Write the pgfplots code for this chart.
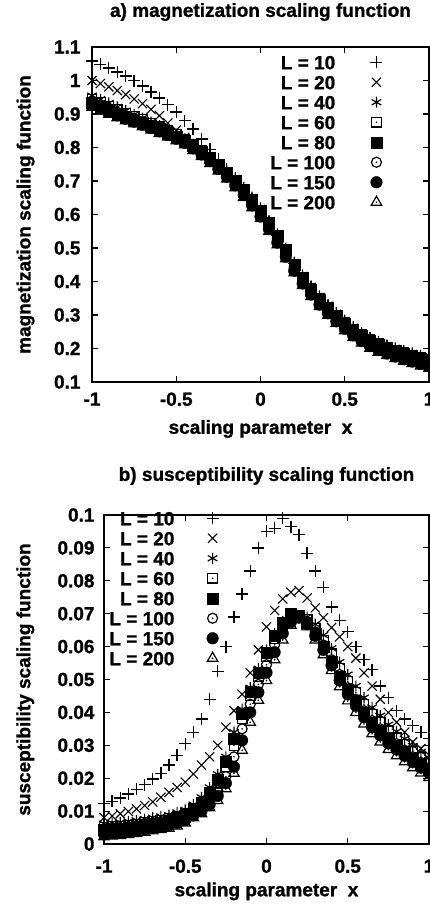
\documentclass[border=0pt]{standalone}
\usepackage{fontspec}
\setmainfont{Liberation Sans}[FakeBold=1.1]
\usepackage{pgfplots}
\usepackage{pgfplotstable}
\pgfplotsset{compat=1.18}
\newcommand\fnt{\fontsize{19}{22}\selectfont\bfseries}

\pgfdeclareplotmark{sqdot}{%
  \pgfpathrectangle{\pgfpoint{-\pgfplotmarksize}{-\pgfplotmarksize}}{\pgfpoint{2\pgfplotmarksize}{2\pgfplotmarksize}}%
  \pgfusepathqstroke
  \pgfpathcircle{\pgfpointorigin}{0.9pt}\pgfusepathqfill}
\pgfdeclareplotmark{circdot}{%
  \pgfpathcircle{\pgfpointorigin}{\pgfplotmarksize}\pgfusepathqstroke
  \pgfpathcircle{\pgfpointorigin}{0.9pt}\pgfusepathqfill}
\pgfdeclareplotmark{tridot}{%
  \pgfpathmoveto{\pgfpoint{0pt}{\pgfplotmarksize}}%
  \pgfpathlineto{\pgfpoint{-0.866\pgfplotmarksize}{-0.5\pgfplotmarksize}}%
  \pgfpathlineto{\pgfpoint{0.866\pgfplotmarksize}{-0.5\pgfplotmarksize}}%
  \pgfpathclose\pgfusepathqstroke
  \pgfpathcircle{\pgfpointorigin}{0.9pt}\pgfusepathqfill}

\pgfplotstableread{
x L10 L20 L40 L60 L80 L100 L150 L200
-1.00 1.058 1.000 0.955 0.945 0.933 0.936 0.927 0.920
-0.95 1.048 0.991 0.944 0.934 0.922 0.925 0.916 0.909
-0.90 1.037 0.981 0.933 0.924 0.912 0.915 0.906 0.899
-0.85 1.025 0.970 0.921 0.913 0.902 0.905 0.896 0.889
-0.80 1.013 0.958 0.910 0.903 0.892 0.895 0.886 0.880
-0.75 0.999 0.945 0.899 0.893 0.883 0.886 0.877 0.871
-0.70 0.984 0.931 0.888 0.883 0.874 0.877 0.868 0.862
-0.65 0.966 0.914 0.876 0.872 0.864 0.867 0.858 0.852
-0.60 0.948 0.895 0.865 0.862 0.855 0.857 0.848 0.842
-0.55 0.928 0.873 0.853 0.850 0.844 0.846 0.837 0.831
-0.50 0.906 0.852 0.840 0.839 0.833 0.835 0.826 0.820
-0.45 0.880 0.830 0.826 0.824 0.821 0.822 0.814 0.808
-0.40 0.855 0.810 0.810 0.808 0.805 0.805 0.797 0.791
-0.35 0.825 0.790 0.793 0.790 0.788 0.787 0.779 0.773
-0.30 0.795 0.770 0.774 0.771 0.769 0.767 0.759 0.752
-0.25 0.765 0.748 0.753 0.749 0.748 0.745 0.736 0.730
-0.20 0.735 0.725 0.732 0.727 0.725 0.722 0.713 0.706
-0.15 0.708 0.700 0.709 0.703 0.701 0.697 0.687 0.680
-0.10 0.678 0.671 0.681 0.675 0.673 0.668 0.658 0.651
-0.05 0.647 0.641 0.652 0.645 0.643 0.638 0.627 0.620
0.00 0.614 0.608 0.620 0.613 0.612 0.605 0.594 0.588
0.05 0.577 0.571 0.582 0.575 0.575 0.567 0.556 0.550
0.10 0.537 0.531 0.542 0.535 0.536 0.527 0.516 0.510
0.15 0.495 0.489 0.500 0.493 0.494 0.485 0.474 0.468
0.20 0.454 0.447 0.458 0.451 0.451 0.443 0.432 0.426
0.25 0.416 0.410 0.420 0.413 0.411 0.405 0.394 0.388
0.30 0.383 0.377 0.387 0.380 0.377 0.372 0.361 0.355
0.35 0.353 0.347 0.357 0.350 0.347 0.342 0.331 0.325
0.40 0.327 0.321 0.331 0.324 0.321 0.316 0.305 0.299
0.45 0.303 0.297 0.307 0.300 0.297 0.292 0.281 0.275
0.50 0.281 0.275 0.285 0.278 0.275 0.270 0.259 0.253
0.55 0.262 0.255 0.265 0.258 0.255 0.250 0.239 0.233
0.60 0.245 0.238 0.248 0.241 0.238 0.233 0.222 0.216
0.65 0.230 0.223 0.233 0.226 0.223 0.218 0.207 0.201
0.70 0.218 0.211 0.221 0.214 0.211 0.206 0.195 0.189
0.75 0.208 0.201 0.211 0.204 0.201 0.196 0.185 0.179
0.80 0.199 0.192 0.202 0.195 0.192 0.187 0.176 0.170
0.85 0.191 0.184 0.194 0.187 0.184 0.179 0.168 0.162
0.90 0.184 0.177 0.187 0.180 0.177 0.172 0.161 0.155
0.95 0.177 0.170 0.180 0.173 0.170 0.165 0.154 0.148
1.00 0.170 0.163 0.173 0.166 0.163 0.158 0.147 0.141
}\magtable

\pgfplotstableread{
x L10 L20 L40 L60 L80 L100 L150 L200
-1.00 0.0123 0.0080 0.0062 0.0051 0.0044 0.0040 0.0031 0.0022
-0.95 0.0130 0.0085 0.0064 0.0053 0.0046 0.0042 0.0033 0.0024
-0.90 0.0140 0.0092 0.0066 0.0055 0.0048 0.0044 0.0035 0.0026
-0.85 0.0152 0.0099 0.0069 0.0058 0.0051 0.0047 0.0038 0.0029
-0.80 0.0166 0.0107 0.0072 0.0061 0.0054 0.0050 0.0041 0.0032
-0.75 0.0180 0.0117 0.0076 0.0065 0.0058 0.0054 0.0045 0.0036
-0.70 0.0198 0.0128 0.0080 0.0069 0.0062 0.0058 0.0049 0.0040
-0.65 0.0215 0.0142 0.0084 0.0073 0.0066 0.0062 0.0053 0.0044
-0.60 0.0240 0.0157 0.0088 0.0077 0.0071 0.0066 0.0057 0.0048
-0.55 0.0270 0.0172 0.0096 0.0084 0.0079 0.0073 0.0064 0.0055
-0.50 0.0305 0.0188 0.0104 0.0093 0.0088 0.0082 0.0073 0.0064
-0.45 0.0340 0.0213 0.0120 0.0107 0.0104 0.0094 0.0087 0.0080
-0.40 0.0380 0.0240 0.0142 0.0124 0.0125 0.0110 0.0100 0.0092
-0.35 0.0440 0.0265 0.0172 0.0150 0.0155 0.0132 0.0120 0.0110
-0.30 0.0525 0.0300 0.0212 0.0185 0.0194 0.0162 0.0146 0.0132
-0.25 0.0600 0.0355 0.0265 0.0235 0.0250 0.0205 0.0185 0.0168
-0.20 0.0690 0.0405 0.0340 0.0300 0.0320 0.0265 0.0235 0.0215
-0.15 0.0760 0.0455 0.0410 0.0380 0.0395 0.0350 0.0315 0.0285
-0.10 0.0830 0.0520 0.0475 0.0450 0.0462 0.0425 0.0400 0.0370
-0.05 0.0900 0.0590 0.0533 0.0509 0.0521 0.0485 0.0461 0.0437
0.00 0.0950 0.0660 0.0590 0.0569 0.0580 0.0545 0.0521 0.0497
0.05 0.0960 0.0710 0.0640 0.0625 0.0633 0.0605 0.0583 0.0560
0.10 0.0990 0.0745 0.0677 0.0667 0.0672 0.0655 0.0640 0.0620
0.15 0.0965 0.0765 0.0692 0.0690 0.0700 0.0685 0.0675 0.0665
0.20 0.0940 0.0770 0.0690 0.0690 0.0695 0.0690 0.0688 0.0683
0.25 0.0884 0.0748 0.0690 0.0683 0.0672 0.0675 0.0668 0.0660
0.30 0.0830 0.0718 0.0668 0.0656 0.0640 0.0645 0.0633 0.0620
0.35 0.0780 0.0688 0.0635 0.0620 0.0600 0.0605 0.0590 0.0575
0.40 0.0720 0.0658 0.0595 0.0578 0.0555 0.0560 0.0543 0.0527
0.45 0.0680 0.0630 0.0553 0.0534 0.0510 0.0515 0.0497 0.0478
0.50 0.0645 0.0600 0.0515 0.0495 0.0470 0.0475 0.0455 0.0435
0.55 0.0600 0.0565 0.0480 0.0460 0.0435 0.0440 0.0420 0.0400
0.60 0.0560 0.0520 0.0445 0.0425 0.0400 0.0405 0.0385 0.0365
0.65 0.0530 0.0480 0.0415 0.0395 0.0370 0.0375 0.0355 0.0335
0.70 0.0480 0.0440 0.0390 0.0370 0.0345 0.0350 0.0330 0.0310
0.75 0.0445 0.0400 0.0363 0.0344 0.0320 0.0325 0.0306 0.0287
0.80 0.0405 0.0370 0.0342 0.0323 0.0300 0.0305 0.0287 0.0268
0.85 0.0380 0.0340 0.0320 0.0302 0.0280 0.0285 0.0268 0.0250
0.90 0.0360 0.0310 0.0298 0.0281 0.0260 0.0265 0.0249 0.0232
0.95 0.0340 0.0290 0.0280 0.0264 0.0243 0.0248 0.0232 0.0216
1.00 0.0320 0.0270 0.0262 0.0247 0.0227 0.0232 0.0217 0.0202
}\susctable

\pgfplotsset{
  gp/.style={
    scale only axis,
    xmin=-1, xmax=1,
    axis line style={line width=1.3pt},
    every tick/.style={black, line width=1.1pt},
    major tick length=6pt,
    tick align=inside,
    xtick={-1,-0.5,0,0.5,1},
    xticklabels={-1,-0.5,0,0.5,1},
    scaled ticks=false,
    /pgf/number format/assume math mode=true,
    tick label style={font=\fnt},
    title style={font=\fnt},
    only marks,
    legend image code/.code={\path (-8pt,0pt) (8pt,0pt); \draw[##1, only marks] plot coordinates {(0pt,0pt)};},
    legend style={font=\fnt, draw=none, fill=none, inner sep=0pt,
      nodes={inner sep=0pt, text height=14pt, text depth=0pt}, row sep=6pt},
    legend cell align=right,
    legend plot pos=right,
    xlabel={scaling parameter\ \ x},
  },
  p10/.style={mark=+, mark size=6pt, black, mark options={line width=1.3pt}},
  p20/.style={mark=x, mark size=6.5pt, black, mark options={line width=1.1pt}},
  p40/.style={mark=asterisk, mark size=5.5pt, black, mark options={line width=1.2pt}},
  p60/.style={mark=sqdot, mark size=4.8pt, black, mark options={line width=1.2pt}},
  p80/.style={mark=square*, mark size=5.5pt, black, mark options={fill=black}},
  p100/.style={mark=circdot, mark size=5pt, black, mark options={line width=1.2pt}},
  p150/.style={mark=*, mark size=5.8pt, black, mark options={fill=black}},
  p200/.style={mark=tridot, mark size=6pt, black, mark options={line width=1.2pt}},
}

\begin{document}
\begin{tikzpicture}[x=1pt,y=1pt]
\begin{axis}[gp,
  at={(92pt,-47pt)}, anchor=north west,
  width=337pt, height=335pt,
  ymin=0.1, ymax=1.1,
  ytick={0.1,0.2,0.3,0.4,0.5,0.6,0.7,0.8,0.9,1,1.1},
  yticklabels={0.1,0.2,0.3,0.4,0.5,0.6,0.7,0.8,0.9,1,1.1},
  yticklabel style={xshift=-8pt},
  xticklabel style={yshift=-7pt},
  title={a) magnetization scaling function},
  title style={at={(axis description cs:0.5,1)}, anchor=center, yshift=29pt},
  ylabel={magnetization scaling function},
  every axis y label/.style={at={(axis description cs:-0.197,0.5)}, rotate=90, anchor=center, font=\fnt},
  every axis x label/.style={at={(axis description cs:0.5,-0.140)}, anchor=center, font=\fnt},
  legend style={at={(axis description cs:0.869,0.976)}, anchor=north east, column sep=33pt},
]
\addplot[p10]  table[x=x,y=L10]  {\magtable};
\addplot[p20]  table[x=x,y=L20]  {\magtable};
\addplot[p40]  table[x=x,y=L40]  {\magtable};
\addplot[p60]  table[x=x,y=L60]  {\magtable};
\addplot[p80]  table[x=x,y=L80]  {\magtable};
\addplot[p100] table[x=x,y=L100] {\magtable};
\addplot[p150] table[x=x,y=L150] {\magtable};
\addplot[p200] table[x=x,y=L200] {\magtable};
\legend{L = 10, L = 20, L = 40, L = 60, L = 80, L = 100, L = 150, L = 200}
\end{axis}

\begin{axis}[gp,
  at={(104pt,-515pt)}, anchor=north west,
  width=325pt, height=329pt,
  ymin=0, ymax=0.1,
  ytick={0,0.01,0.02,0.03,0.04,0.05,0.06,0.07,0.08,0.09,0.1},
  yticklabels={0,0.01,0.02,0.03,0.04,0.05,0.06,0.07,0.08,0.09,0.1},
  yticklabel style={xshift=-6pt},
  xticklabel style={yshift=-12pt},
  title={b) susceptibility scaling function},
  title style={at={(axis description cs:0.5,1)}, anchor=center, yshift=33pt},
  ylabel={susceptibility scaling function},
  every axis y label/.style={at={(axis description cs:-0.242,0.5)}, rotate=90, anchor=center, font=\fnt},
  every axis x label/.style={at={(axis description cs:0.5,-0.144)}, anchor=center, font=\fnt},
  legend style={at={(axis description cs:0.36,1.012)}, anchor=north east, column sep=30pt},
]
\addplot[p10]  table[x=x,y=L10]  {\susctable};
\addplot[p20]  table[x=x,y=L20]  {\susctable};
\addplot[p40]  table[x=x,y=L40]  {\susctable};
\addplot[p60]  table[x=x,y=L60]  {\susctable};
\addplot[p80]  table[x=x,y=L80]  {\susctable};
\addplot[p100] table[x=x,y=L100] {\susctable};
\addplot[p150] table[x=x,y=L150] {\susctable};
\addplot[p200] table[x=x,y=L200] {\susctable};
\legend{L = 10, L = 20, L = 40, L = 60, L = 80, L = 100, L = 150, L = 200}
\end{axis}
\pgfresetboundingbox
\useasboundingbox (0pt,0pt) rectangle (429pt,-905pt);
\end{tikzpicture}
\end{document}
